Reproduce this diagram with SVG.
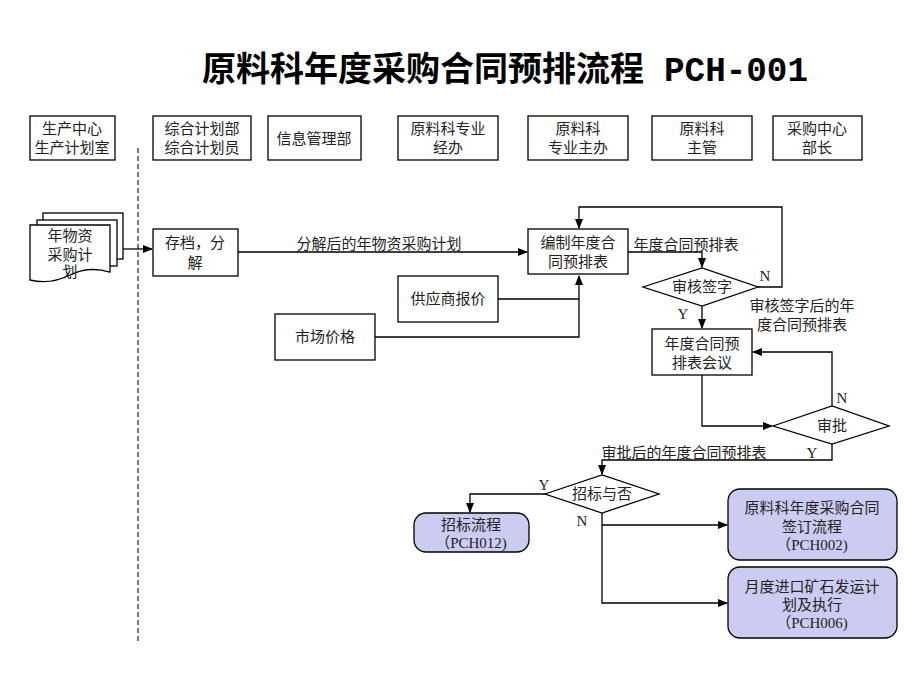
<svg xmlns="http://www.w3.org/2000/svg" width="920" height="690" viewBox="0 0 920 690">
<defs>
<marker id="arr" markerWidth="10" markerHeight="8" refX="9" refY="4" orient="auto" markerUnits="userSpaceOnUse">
<path d="M0,0 L10,4 L0,8 Z" fill="#000"/>
</marker>
<style>
.box{fill:#fff;stroke:#000;stroke-width:1.3}
.sub{fill:#ccccf2;stroke:#000;stroke-width:1.3}
.ln{fill:none;stroke:#000;stroke-width:1.3}
.la{fill:none;stroke:#000;stroke-width:1.3;marker-end:url(#arr)}
text{font-family:"Liberation Serif","Noto Sans CJK SC",serif;font-size:15px;fill:#222;text-anchor:middle}
.t{font-family:"Noto Sans CJK SC",sans-serif;font-size:34px;font-weight:bold;fill:#000;text-anchor:start}
.tl{font-family:"Liberation Mono",monospace;font-weight:bold;font-size:35px}
</style>
</defs>
<rect width="920" height="690" fill="#fff"/>
<text class="t" x="202" y="81">原料科年度采购合同预排流程<tspan class="tl" x="664" textLength="144" lengthAdjust="spacingAndGlyphs">PCH-001</tspan></text>

<g id="lanes">
<g id="lane1"><rect class="box" x="30" y="116" width="85" height="44"/><text x="72" y="134">生产中心</text><text x="72" y="153">生产计划室</text></g>
<g id="lane2"><rect class="box" x="153" y="116" width="98" height="44"/><text x="202" y="134">综合计划部</text><text x="202" y="153">综合计划员</text></g>
<g id="lane3"><rect class="box" x="268" y="116" width="93" height="44"/><text x="314" y="144">信息管理部</text></g>
<g id="lane4"><rect class="box" x="398" y="116" width="100" height="44"/><text x="448" y="134">原料科专业</text><text x="448" y="153">经办</text></g>
<g id="lane5"><rect class="box" x="528" y="116" width="100" height="44"/><text x="578" y="134">原料科</text><text x="578" y="153">专业主办</text></g>
<g id="lane6"><rect class="box" x="652" y="116" width="100" height="44"/><text x="702" y="134">原料科</text><text x="702" y="153">主管</text></g>
<g id="lane7"><rect class="box" x="773" y="116" width="89" height="44"/><text x="817" y="134">采购中心</text><text x="817" y="153">部长</text></g>
</g>

<line x1="138" y1="148" x2="138" y2="643" stroke="#777" stroke-width="2" stroke-dasharray="5,3"/>

<g id="connectors">
<path class="la" d="M123,249 H152"/>
<path class="la" d="M238,252 H527"/>
<text x="379" y="249">分解后的年物资采购计划</text>
<path class="ln" d="M498,299 H579"/>
<path class="la" d="M375,337 H579 V276"/>
<path class="la" d="M758,287 H782 V207 H579 V228"/>
<text x="765" y="281">N</text>
<path class="la" d="M628,252 H702 V267"/>
<text x="686" y="250">年度合同预排表</text>
<path class="la" d="M702,306 V328"/>
<text x="683" y="319">Y</text>
<text x="802" y="311">审核签字后的年</text>
<text x="802" y="330">度合同预排表</text>
<path class="la" d="M702,375 V426 H772"/>
<path class="la" d="M832,406 V352 H753"/>
<text x="842" y="403">N</text>
<path class="la" d="M832,444 V460 H602 V474"/>
<text x="684" y="458">审批后的年度合同预排表</text>
<text x="812" y="458">Y</text>
<path class="la" d="M545,494 H470 V512"/>
<text x="544" y="490">Y</text>
<path class="la" d="M602,513 V603 H727"/>
<path class="la" d="M602,525 H727"/>
<text x="582" y="526">N</text>
</g>

<g id="doc">
<rect class="box" x="43" y="213" width="80" height="46"/>
<rect class="box" x="37" y="220" width="80" height="46"/>
<path class="box" d="M30,225 H110 V272 C96,268 82,269 70,275 C56,282 42,283 30,280 Z"/>
<text x="70" y="241">年物资</text>
<text x="70" y="260">采购计</text>
<text x="70" y="277">划</text>
</g>

<g id="archive"><rect class="box" x="153" y="229" width="85" height="47"/><text x="195" y="248">存档，分</text><text x="195" y="268">解</text></g>
<g id="compile"><rect class="box" x="528" y="229" width="100" height="45"/><text x="578" y="248">编制年度合</text><text x="578" y="267">同预排表</text></g>
<g id="supplier"><rect class="box" x="398" y="276" width="100" height="46"/><text x="448" y="304">供应商报价</text></g>
<g id="market"><rect class="box" x="275" y="314" width="100" height="46"/><text x="325" y="342">市场价格</text></g>
<g id="review"><polygon class="box" points="643,287 702,268 758,287 702,306"/><text x="702" y="292">审核签字</text></g>
<g id="meeting"><rect class="box" x="652" y="329" width="100" height="46"/><text x="702" y="349">年度合同预</text><text x="702" y="368">排表会议</text></g>
<g id="approve"><polygon class="box" points="773,426 832,406 889,426 832,444"/><text x="832" y="431">审批</text></g>
<g id="tender"><polygon class="box" points="545,494 602,475 659,494 602,513"/><text x="602" y="499">招标与否</text></g>
<g id="pch012"><rect class="sub" x="414" y="513" width="115" height="39" rx="12"/><text x="471" y="530">招标流程</text><text x="471" y="548">（PCH012)</text></g>
<g id="pch002"><rect class="sub" x="728" y="489" width="169" height="71" rx="12"/><text x="812" y="513">原料科年度采购合同</text><text x="812" y="532">签订流程</text><text x="812" y="550">（PCH002)</text></g>
<g id="pch006"><rect class="sub" x="728" y="567" width="169" height="71" rx="12"/><text x="812" y="592">月度进口矿石发运计</text><text x="812" y="610">划及执行</text><text x="812" y="628">（PCH006)</text></g>
</svg>
